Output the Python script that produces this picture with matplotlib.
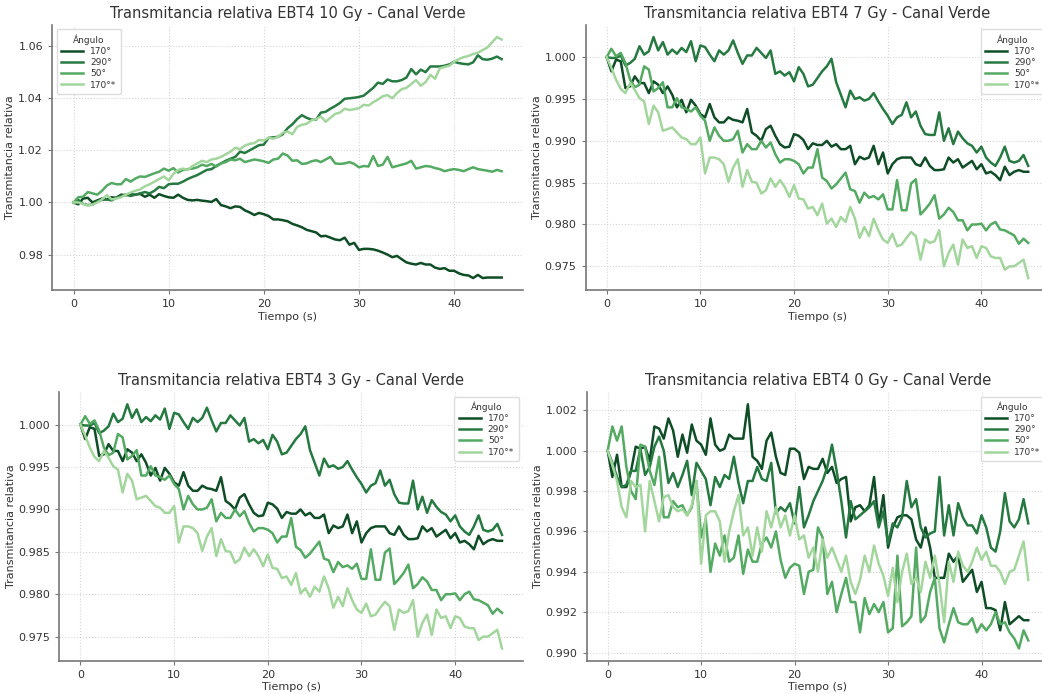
## Transmitancia relativa EBT4 - canal verde, cuatro dosis y cuatro angulos
import numpy as np
import matplotlib
matplotlib.use('Agg')
import matplotlib.pyplot as plt

# tiempo de lectura (s), una muestra cada 0.5 s
tiempo = np.arange(0, 45.5, 0.5)

angulos = ['170°', '290°', '50°', '170°*']
colores = ['#0f4d26', '#267a41', '#54aa62', '#a3d69d']

# ---- 10 Gy ----
g10_170 = [1.0000, 0.9993, 1.0015, 1.0018, 1.0000, 1.0008, 1.0015, 1.0012, 1.0020, 1.0018,
           1.0030, 1.0028, 1.0032, 1.0030, 1.0033, 1.0022, 1.0030, 1.0018, 1.0032, 1.0025,
           1.0020, 1.0018, 1.0030, 1.0018, 1.0010, 1.0008, 1.0010, 1.0007, 1.0005, 1.0002,
           1.0013, 0.9990, 0.9985, 0.9978, 0.9985, 0.9983, 0.9970, 0.9962, 0.9952, 0.9960,
           0.9955, 0.9948, 0.9935, 0.9935, 0.9932, 0.9928, 0.9918, 0.9912, 0.9905, 0.9895,
           0.9890, 0.9885, 0.9870, 0.9872, 0.9865, 0.9858, 0.9855, 0.9865, 0.9838, 0.9845,
           0.9818, 0.9822, 0.9822, 0.9820, 0.9815, 0.9808, 0.9800, 0.9790, 0.9795, 0.9782,
           0.9770, 0.9765, 0.9762, 0.9768, 0.9762, 0.9762, 0.9750, 0.9745, 0.9748, 0.9738,
           0.9738, 0.9728, 0.9722, 0.9720, 0.9710, 0.9722, 0.9710, 0.9712, 0.9712, 0.9712,
           0.9712]
g10_290 = [1.0000, 1.0010, 0.9995, 0.9990, 0.9992, 1.0005, 1.0010, 1.0012, 1.0008, 1.0018,
           1.0025, 1.0030, 1.0025, 1.0030, 1.0035, 1.0040, 1.0035, 1.0045, 1.0060, 1.0055,
           1.0070, 1.0072, 1.0072, 1.0080, 1.0090, 1.0098, 1.0105, 1.0115, 1.0125, 1.0128,
           1.0140, 1.0150, 1.0160, 1.0168, 1.0175, 1.0195, 1.0190, 1.0200, 1.0210, 1.0220,
           1.0222, 1.0248, 1.0250, 1.0252, 1.0262, 1.0285, 1.0300, 1.0320, 1.0335, 1.0325,
           1.0318, 1.0318, 1.0345, 1.0348, 1.0360, 1.0370, 1.0382, 1.0398, 1.0400, 1.0402,
           1.0405, 1.0410, 1.0425, 1.0440, 1.0460, 1.0455, 1.0472, 1.0465, 1.0465, 1.0470,
           1.0480, 1.0512, 1.0492, 1.0510, 1.0500, 1.0522, 1.0522, 1.0522, 1.0525, 1.0530,
           1.0540, 1.0535, 1.0532, 1.0530, 1.0538, 1.0565, 1.0550, 1.0548, 1.0552, 1.0560,
           1.0550]
g10_50 = [1.0000, 1.0020, 1.0022, 1.0040, 1.0035, 1.0030, 1.0045, 1.0065, 1.0075, 1.0070,
          1.0070, 1.0090, 1.0080, 1.0092, 1.0100, 1.0098, 1.0105, 1.0112, 1.0118, 1.0130,
          1.0122, 1.0132, 1.0115, 1.0125, 1.0128, 1.0130, 1.0135, 1.0145, 1.0140, 1.0148,
          1.0138, 1.0150, 1.0155, 1.0165, 1.0162, 1.0168, 1.0155, 1.0160, 1.0165, 1.0162,
          1.0158, 1.0152, 1.0165, 1.0168, 1.0188, 1.0180, 1.0160, 1.0162, 1.0148, 1.0150,
          1.0158, 1.0162, 1.0155, 1.0165, 1.0175, 1.0150, 1.0148, 1.0150, 1.0155, 1.0148,
          1.0135, 1.0140, 1.0138, 1.0178, 1.0140, 1.0145, 1.0175, 1.0135, 1.0140, 1.0145,
          1.0150, 1.0160, 1.0130, 1.0135, 1.0140, 1.0138, 1.0132, 1.0128, 1.0120, 1.0125,
          1.0128, 1.0125, 1.0120, 1.0128, 1.0135, 1.0128, 1.0125, 1.0122, 1.0118, 1.0125,
          1.0120]
g10_170b = [1.0000, 1.0000, 0.9995, 0.9988, 0.9992, 1.0000, 1.0012, 1.0028, 1.0012, 1.0015,
            1.0020, 1.0030, 1.0038, 1.0045, 1.0050, 1.0062, 1.0070, 1.0080, 1.0090, 1.0100,
            1.0085, 1.0110, 1.0125, 1.0130, 1.0125, 1.0140, 1.0150, 1.0160, 1.0155, 1.0165,
            1.0168, 1.0175, 1.0185, 1.0195, 1.0210, 1.0205, 1.0218, 1.0225, 1.0228, 1.0240,
            1.0238, 1.0248, 1.0245, 1.0252, 1.0268, 1.0272, 1.0262, 1.0290, 1.0298, 1.0302,
            1.0315, 1.0320, 1.0330, 1.0310, 1.0325, 1.0340, 1.0345, 1.0360, 1.0355, 1.0358,
            1.0362, 1.0375, 1.0372, 1.0385, 1.0395, 1.0408, 1.0412, 1.0400, 1.0420, 1.0435,
            1.0440, 1.0455, 1.0470, 1.0448, 1.0462, 1.0490, 1.0475, 1.0515, 1.0520, 1.0525,
            1.0540, 1.0550, 1.0558, 1.0562, 1.0570, 1.0575, 1.0585, 1.0595, 1.0615, 1.0635,
            1.0625]

# ---- 7 Gy (las curvas de 3 Gy son las mismas en la figura original) ----
g7_170 = [1.0000, 0.9983, 0.9997, 0.9995, 0.9963, 0.9965, 0.9977, 0.9969, 0.9969, 0.9957,
          0.9971, 0.9967, 0.9957, 0.9965, 0.9955, 0.9940, 0.9949, 0.9934, 0.9949, 0.9942,
          0.9932, 0.9928, 0.9944, 0.9928, 0.9922, 0.9922, 0.9928, 0.9925, 0.9924, 0.9922,
          0.9938, 0.9910, 0.9906, 0.9900, 0.9914, 0.9918, 0.9906, 0.9896, 0.9892, 0.9893,
          0.9908, 0.9906, 0.9901, 0.9890, 0.9897, 0.9895, 0.9895, 0.9900, 0.9893, 0.9896,
          0.9890, 0.9890, 0.9894, 0.9872, 0.9881, 0.9878, 0.9880, 0.9894, 0.9872, 0.9886,
          0.9861, 0.9872, 0.9878, 0.9880, 0.9880, 0.9880, 0.9872, 0.9870, 0.9880, 0.9870,
          0.9865, 0.9865, 0.9866, 0.9880, 0.9874, 0.9878, 0.9868, 0.9872, 0.9876, 0.9866,
          0.9872, 0.9861, 0.9863, 0.9859, 0.9853, 0.9869, 0.9859, 0.9863, 0.9865, 0.9863,
          0.9863]
g7_290 = [1.0000, 0.9999, 0.9999, 1.0002, 0.9990, 0.9993, 0.9998, 1.0013, 1.0003, 1.0007,
          1.0024, 1.0008, 1.0018, 1.0003, 1.0009, 1.0004, 1.0011, 1.0006, 1.0019, 0.9995,
          1.0014, 1.0012, 1.0003, 0.9995, 1.0008, 1.0003, 1.0008, 1.0020, 1.0005, 0.9992,
          1.0002, 1.0002, 1.0011, 1.0005, 0.9999, 1.0008, 0.9980, 0.9983, 0.9978, 0.9982,
          0.9971, 0.9988, 0.9980, 0.9965, 0.9967, 0.9975, 0.9983, 0.9989, 0.9998, 0.9970,
          0.9955, 0.9940, 0.9960, 0.9950, 0.9952, 0.9948, 0.9950, 0.9957, 0.9947, 0.9938,
          0.9930, 0.9920, 0.9928, 0.9931, 0.9946, 0.9928, 0.9935, 0.9918, 0.9908, 0.9907,
          0.9907, 0.9934, 0.9900, 0.9915, 0.9896, 0.9911, 0.9903, 0.9897, 0.9894, 0.9886,
          0.9893, 0.9880, 0.9874, 0.9870, 0.9880, 0.9893, 0.9876, 0.9874, 0.9876, 0.9883,
          0.9870]
g7_50 = [1.0000, 1.0010, 1.0001, 1.0005, 0.9993, 0.9973, 0.9964, 0.9967, 0.9989, 0.9985,
         0.9959, 0.9963, 0.9970, 0.9940, 0.9940, 0.9951, 0.9940, 0.9938, 0.9935, 0.9940,
         0.9930, 0.9924, 0.9900, 0.9916, 0.9906, 0.9900, 0.9900, 0.9902, 0.9912, 0.9886,
         0.9896, 0.9890, 0.9890, 0.9900, 0.9892, 0.9898, 0.9884, 0.9874, 0.9878, 0.9878,
         0.9876, 0.9872, 0.9861, 0.9868, 0.9868, 0.9890, 0.9856, 0.9852, 0.9843, 0.9848,
         0.9855, 0.9862, 0.9842, 0.9840, 0.9826, 0.9838, 0.9832, 0.9834, 0.9830, 0.9836,
         0.9818, 0.9818, 0.9853, 0.9817, 0.9817, 0.9849, 0.9854, 0.9812, 0.9818, 0.9825,
         0.9835, 0.9807, 0.9812, 0.9820, 0.9815, 0.9805, 0.9805, 0.9793, 0.9800, 0.9800,
         0.9801, 0.9793, 0.9800, 0.9803, 0.9794, 0.9793, 0.9790, 0.9787, 0.9777, 0.9783,
         0.9778]
g7_170b = [1.0000, 0.9987, 0.9973, 0.9962, 0.9957, 0.9969, 0.9961, 0.9951, 0.9947, 0.9920,
           0.9942, 0.9934, 0.9912, 0.9914, 0.9916, 0.9910, 0.9904, 0.9902, 0.9896, 0.9896,
           0.9904, 0.9861, 0.9880, 0.9880, 0.9878, 0.9872, 0.9851, 0.9868, 0.9878, 0.9845,
           0.9865, 0.9851, 0.9850, 0.9837, 0.9841, 0.9855, 0.9845, 0.9853, 0.9845, 0.9833,
           0.9847, 0.9831, 0.9830, 0.9819, 0.9821, 0.9811, 0.9825, 0.9801, 0.9807, 0.9797,
           0.9809, 0.9803, 0.9821, 0.9807, 0.9784, 0.9797, 0.9786, 0.9807, 0.9793, 0.9782,
           0.9778, 0.9789, 0.9774, 0.9776, 0.9784, 0.9791, 0.9786, 0.9758, 0.9782, 0.9778,
           0.9780, 0.9793, 0.9750, 0.9766, 0.9776, 0.9752, 0.9782, 0.9772, 0.9774, 0.9760,
           0.9774, 0.9772, 0.9762, 0.9760, 0.9760, 0.9746, 0.9750, 0.9750, 0.9754, 0.9758,
           0.9736]

# ---- 0 Gy ----
g0_170 = [1.0000, 0.9987, 0.9998, 0.9982, 0.9982, 0.9990, 1.0002, 1.0001, 1.0002, 0.9995,
          1.0012, 1.0011, 1.0006, 1.0016, 1.0010, 0.9997, 1.0008, 0.9999, 1.0013, 1.0005,
          1.0003, 0.9998, 1.0016, 1.0003, 1.0000, 1.0001, 1.0008, 1.0006, 1.0006, 1.0006,
          1.0023, 0.9997, 0.9995, 0.9991, 1.0005, 1.0009, 0.9997, 0.9989, 0.9988, 1.0001,
          1.0001, 0.9999, 0.9986, 0.9992, 0.9991, 0.9991, 0.9996, 0.9989, 0.9992, 0.9984,
          0.9986, 0.9987, 0.9965, 0.9972, 0.9973, 0.9970, 0.9973, 0.9987, 0.9963, 0.9978,
          0.9952, 0.9962, 0.9967, 0.9968, 0.9968, 0.9966, 0.9956, 0.9952, 0.9962, 0.9952,
          0.9937, 0.9937, 0.9937, 0.9949, 0.9945, 0.9948, 0.9935, 0.9938, 0.9941, 0.9930,
          0.9935, 0.9922, 0.9922, 0.9921, 0.9911, 0.9925, 0.9914, 0.9916, 0.9918, 0.9916,
          0.9916]
g0_290 = [1.0000, 0.9994, 0.9987, 0.9982, 0.9983, 0.9990, 0.9990, 1.0001, 0.9988, 0.9992,
          1.0002, 1.0007, 1.0000, 0.9984, 0.9989, 0.9982, 0.9988, 0.9995, 0.9978, 0.9994,
          0.9990, 0.9986, 0.9973, 0.9987, 0.9982, 0.9988, 0.9986, 0.9997, 0.9984, 0.9974,
          0.9985, 0.9985, 0.9992, 0.9986, 0.9985, 0.9994, 0.9969, 0.9972, 0.9970, 0.9974,
          0.9964, 0.9982, 0.9962, 0.9968, 0.9975, 0.9980, 0.9985, 0.9992, 1.0003, 0.9990,
          0.9975, 0.9957, 0.9975, 0.9966, 0.9968, 0.9970, 0.9972, 0.9975, 0.9962, 0.9970,
          0.9954, 0.9964, 0.9962, 0.9967, 0.9985, 0.9972, 0.9976, 0.9962, 0.9957, 0.9959,
          0.9960, 0.9987, 0.9958, 0.9973, 0.9958, 0.9974, 0.9967, 0.9963, 0.9963, 0.9959,
          0.9968, 0.9962, 0.9952, 0.9950, 0.9960, 0.9979, 0.9965, 0.9962, 0.9966, 0.9976,
          0.9964]
g0_50 = [1.0000, 1.0012, 1.0005, 1.0012, 0.9992, 0.9980, 0.9976, 1.0003, 1.0002, 0.9990,
         0.9983, 0.9997, 0.9967, 0.9967, 0.9975, 0.9972, 0.9973, 0.9968, 0.9972, 0.9985,
         0.9957, 0.9966, 0.9940, 0.9954, 0.9948, 0.9958, 0.9945, 0.9947, 0.9958, 0.9939,
         0.9951, 0.9945, 0.9945, 0.9954, 0.9957, 0.9952, 0.9960, 0.9946, 0.9937, 0.9942,
         0.9944, 0.9943, 0.9929, 0.9940, 0.9941, 0.9962, 0.9957, 0.9929, 0.9935, 0.9920,
         0.9929, 0.9937, 0.9925, 0.9925, 0.9910, 0.9927, 0.9919, 0.9924, 0.9920, 0.9925,
         0.9910, 0.9912, 0.9948, 0.9913, 0.9915, 0.9918, 0.9952, 0.9915, 0.9918, 0.9930,
         0.9937, 0.9912, 0.9905, 0.9914, 0.9922, 0.9915, 0.9914, 0.9914, 0.9917, 0.9910,
         0.9914, 0.9911, 0.9914, 0.9920, 0.9914, 0.9915, 0.9910, 0.9907, 0.9902, 0.9911,
         0.9906]
g0_170b = [1.0000, 0.9993, 0.9985, 0.9972, 0.9967, 0.9985, 0.9982, 0.9983, 0.9960, 0.9985,
           0.9975, 0.9965, 0.9977, 0.9978, 0.9972, 0.9970, 0.9971, 0.9968, 0.9973, 0.9985,
           0.9944, 0.9968, 0.9970, 0.9970, 0.9965, 0.9945, 0.9960, 0.9970, 0.9978, 0.9958,
           0.9962, 0.9948, 0.9962, 0.9950, 0.9970, 0.9962, 0.9972, 0.9962, 0.9968, 0.9958,
           0.9968, 0.9956, 0.9958, 0.9947, 0.9952, 0.9940, 0.9956, 0.9947, 0.9952, 0.9946,
           0.9940, 0.9948, 0.9935, 0.9929, 0.9936, 0.9948, 0.9940, 0.9953, 0.9944, 0.9938,
           0.9928, 0.9942, 0.9925, 0.9940, 0.9949, 0.9934, 0.9937, 0.9930, 0.9945, 0.9937,
           0.9948, 0.9934, 0.9915, 0.9945, 0.9935, 0.9950, 0.9943, 0.9940, 0.9945, 0.9952,
           0.9946, 0.9950, 0.9943, 0.9943, 0.9940, 0.9934, 0.9940, 0.9941, 0.9948, 0.9955,
           0.9936]

paneles = [('10 Gy', [g10_170, g10_290, g10_50, g10_170b], 'upper left'),
           ('7 Gy', [g7_170, g7_290, g7_50, g7_170b], 'upper right'),
           ('3 Gy', [g7_170, g7_290, g7_50, g7_170b], 'upper right'),
           ('0 Gy', [g0_170, g0_290, g0_50, g0_170b], 'upper right')]

# posiciones de los ejes [izq, abajo, ancho, alto] en fraccion de figura
cajas = [[0.050, 0.582, 0.452, 0.382],
         [0.562, 0.582, 0.445, 0.382],
         [0.057, 0.048, 0.445, 0.387],
         [0.563, 0.048, 0.444, 0.387]]

fig = plt.figure(figsize=(10.42, 6.94), dpi=100)

for (dosis, series, pos_ley), caja in zip(paneles, cajas):
    ax = fig.add_axes(caja)
    for y, nombre, c in zip(series, angulos, colores):
        ax.plot(tiempo, y, color=c, lw=1.8, label=nombre)

    ax.set_title('Transmitancia relativa EBT4 ' + dosis + ' - Canal Verde',
                 fontsize=10.5, color='#333333', pad=5)
    ax.set_xlabel('Tiempo (s)', fontsize=8, color='#333333', labelpad=2)
    ax.set_ylabel('Transmitancia relativa', fontsize=8, color='#333333', labelpad=2)

    ax.grid(True, ls=':', lw=0.8, color='#d6d6d6')
    ax.set_axisbelow(True)
    for lado in ['top', 'right']:
        ax.spines[lado].set_visible(False)
    for lado in ['left', 'bottom']:
        ax.spines[lado].set_color('#777777')
        ax.spines[lado].set_linewidth(1.2)
    ax.tick_params(labelsize=8, colors='#777777', labelcolor='#333333', length=3, width=0.8)

    ley = ax.legend(title='Ángulo', loc=pos_ley, fontsize=6.5, title_fontsize=6.5,
                    handlelength=2.4, labelspacing=0.25, borderpad=0.5,
                    frameon=True, framealpha=1, edgecolor='#dddddd', fancybox=True)
    ley.get_title().set_color('#333333')
    for txt in ley.get_texts():
        txt.set_color('#333333')

plt.savefig('out.png', dpi=100)
